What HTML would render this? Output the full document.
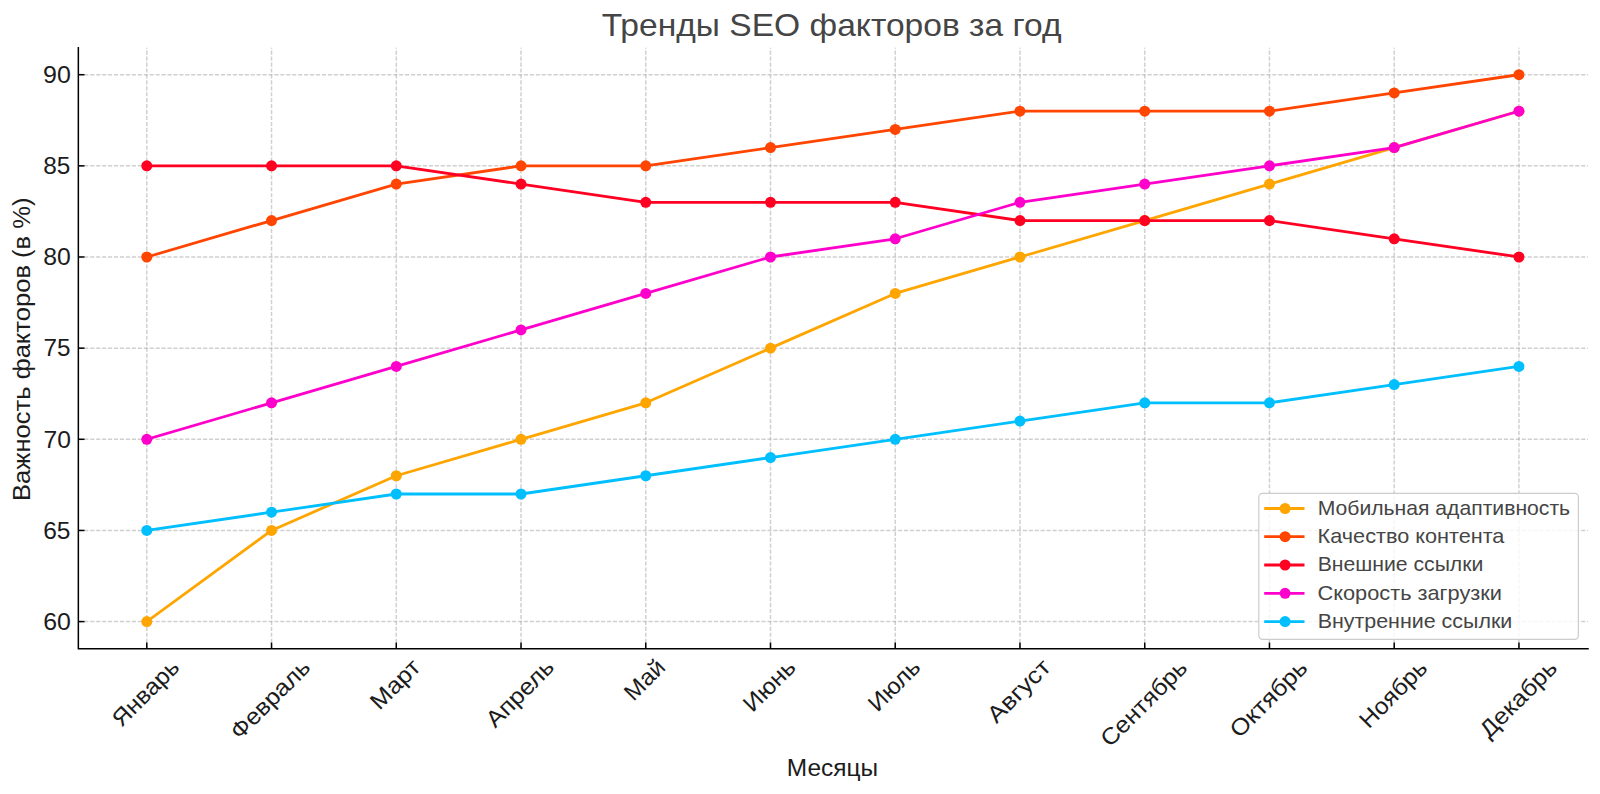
<!DOCTYPE html><html><head><meta charset="utf-8"><title>Тренды SEO факторов за год</title><style>html,body{margin:0;padding:0;background:#fff;width:1600px;height:794px;overflow:hidden}svg{display:block}text{font-family:"Liberation Sans",sans-serif}</style></head><body>
<svg width="1600" height="794" viewBox="0 0 1600 794">
<rect width="1600" height="794" fill="#fff"/>
<g stroke="#b0b0b0" stroke-opacity="0.6" stroke-width="1.5" stroke-dasharray="4.15 1.79" fill="none">
<line x1="146.80" y1="648.75" x2="146.80" y2="47.80"/>
<line x1="271.54" y1="648.75" x2="271.54" y2="47.80"/>
<line x1="396.28" y1="648.75" x2="396.28" y2="47.80"/>
<line x1="521.02" y1="648.75" x2="521.02" y2="47.80"/>
<line x1="645.76" y1="648.75" x2="645.76" y2="47.80"/>
<line x1="770.50" y1="648.75" x2="770.50" y2="47.80"/>
<line x1="895.24" y1="648.75" x2="895.24" y2="47.80"/>
<line x1="1019.98" y1="648.75" x2="1019.98" y2="47.80"/>
<line x1="1144.72" y1="648.75" x2="1144.72" y2="47.80"/>
<line x1="1269.46" y1="648.75" x2="1269.46" y2="47.80"/>
<line x1="1394.20" y1="648.75" x2="1394.20" y2="47.80"/>
<line x1="1518.94" y1="648.75" x2="1518.94" y2="47.80"/>
<line x1="78.35" y1="621.60" x2="1588.00" y2="621.60"/>
<line x1="78.35" y1="530.45" x2="1588.00" y2="530.45"/>
<line x1="78.35" y1="439.30" x2="1588.00" y2="439.30"/>
<line x1="78.35" y1="348.15" x2="1588.00" y2="348.15"/>
<line x1="78.35" y1="257.00" x2="1588.00" y2="257.00"/>
<line x1="78.35" y1="165.85" x2="1588.00" y2="165.85"/>
<line x1="78.35" y1="74.70" x2="1588.00" y2="74.70"/>
</g>
<polyline points="146.80,621.60 271.54,530.45 396.28,475.76 521.02,439.30 645.76,402.84 770.50,348.15 895.24,293.46 1019.98,257.00 1144.72,220.54 1269.46,184.08 1394.20,147.62 1518.94,111.16" fill="none" stroke="#FFA500" stroke-width="2.8" stroke-linejoin="round" stroke-linecap="square"/>
<g fill="#FFA500"><circle cx="146.80" cy="621.60" r="5.5"/><circle cx="271.54" cy="530.45" r="5.5"/><circle cx="396.28" cy="475.76" r="5.5"/><circle cx="521.02" cy="439.30" r="5.5"/><circle cx="645.76" cy="402.84" r="5.5"/><circle cx="770.50" cy="348.15" r="5.5"/><circle cx="895.24" cy="293.46" r="5.5"/><circle cx="1019.98" cy="257.00" r="5.5"/><circle cx="1144.72" cy="220.54" r="5.5"/><circle cx="1269.46" cy="184.08" r="5.5"/><circle cx="1394.20" cy="147.62" r="5.5"/><circle cx="1518.94" cy="111.16" r="5.5"/></g>
<polyline points="146.80,257.00 271.54,220.54 396.28,184.08 521.02,165.85 645.76,165.85 770.50,147.62 895.24,129.39 1019.98,111.16 1144.72,111.16 1269.46,111.16 1394.20,92.93 1518.94,74.70" fill="none" stroke="#FF4500" stroke-width="2.8" stroke-linejoin="round" stroke-linecap="square"/>
<g fill="#FF4500"><circle cx="146.80" cy="257.00" r="5.5"/><circle cx="271.54" cy="220.54" r="5.5"/><circle cx="396.28" cy="184.08" r="5.5"/><circle cx="521.02" cy="165.85" r="5.5"/><circle cx="645.76" cy="165.85" r="5.5"/><circle cx="770.50" cy="147.62" r="5.5"/><circle cx="895.24" cy="129.39" r="5.5"/><circle cx="1019.98" cy="111.16" r="5.5"/><circle cx="1144.72" cy="111.16" r="5.5"/><circle cx="1269.46" cy="111.16" r="5.5"/><circle cx="1394.20" cy="92.93" r="5.5"/><circle cx="1518.94" cy="74.70" r="5.5"/></g>
<polyline points="146.80,165.85 271.54,165.85 396.28,165.85 521.02,184.08 645.76,202.31 770.50,202.31 895.24,202.31 1019.98,220.54 1144.72,220.54 1269.46,220.54 1394.20,238.77 1518.94,257.00" fill="none" stroke="#FF0022" stroke-width="2.8" stroke-linejoin="round" stroke-linecap="square"/>
<g fill="#FF0022"><circle cx="146.80" cy="165.85" r="5.5"/><circle cx="271.54" cy="165.85" r="5.5"/><circle cx="396.28" cy="165.85" r="5.5"/><circle cx="521.02" cy="184.08" r="5.5"/><circle cx="645.76" cy="202.31" r="5.5"/><circle cx="770.50" cy="202.31" r="5.5"/><circle cx="895.24" cy="202.31" r="5.5"/><circle cx="1019.98" cy="220.54" r="5.5"/><circle cx="1144.72" cy="220.54" r="5.5"/><circle cx="1269.46" cy="220.54" r="5.5"/><circle cx="1394.20" cy="238.77" r="5.5"/><circle cx="1518.94" cy="257.00" r="5.5"/></g>
<polyline points="146.80,439.30 271.54,402.84 396.28,366.38 521.02,329.92 645.76,293.46 770.50,257.00 895.24,238.77 1019.98,202.31 1144.72,184.08 1269.46,165.85 1394.20,147.62 1518.94,111.16" fill="none" stroke="#FF00CC" stroke-width="2.8" stroke-linejoin="round" stroke-linecap="square"/>
<g fill="#FF00CC"><circle cx="146.80" cy="439.30" r="5.5"/><circle cx="271.54" cy="402.84" r="5.5"/><circle cx="396.28" cy="366.38" r="5.5"/><circle cx="521.02" cy="329.92" r="5.5"/><circle cx="645.76" cy="293.46" r="5.5"/><circle cx="770.50" cy="257.00" r="5.5"/><circle cx="895.24" cy="238.77" r="5.5"/><circle cx="1019.98" cy="202.31" r="5.5"/><circle cx="1144.72" cy="184.08" r="5.5"/><circle cx="1269.46" cy="165.85" r="5.5"/><circle cx="1394.20" cy="147.62" r="5.5"/><circle cx="1518.94" cy="111.16" r="5.5"/></g>
<polyline points="146.80,530.45 271.54,512.22 396.28,493.99 521.02,493.99 645.76,475.76 770.50,457.53 895.24,439.30 1019.98,421.07 1144.72,402.84 1269.46,402.84 1394.20,384.61 1518.94,366.38" fill="none" stroke="#00BFFF" stroke-width="2.8" stroke-linejoin="round" stroke-linecap="square"/>
<g fill="#00BFFF"><circle cx="146.80" cy="530.45" r="5.5"/><circle cx="271.54" cy="512.22" r="5.5"/><circle cx="396.28" cy="493.99" r="5.5"/><circle cx="521.02" cy="493.99" r="5.5"/><circle cx="645.76" cy="475.76" r="5.5"/><circle cx="770.50" cy="457.53" r="5.5"/><circle cx="895.24" cy="439.30" r="5.5"/><circle cx="1019.98" cy="421.07" r="5.5"/><circle cx="1144.72" cy="402.84" r="5.5"/><circle cx="1269.46" cy="402.84" r="5.5"/><circle cx="1394.20" cy="384.61" r="5.5"/><circle cx="1518.94" cy="366.38" r="5.5"/></g>
<g stroke="#000" stroke-width="1.5" fill="none">
<path d="M78.35 47.80V648.75H1588.00" stroke-linecap="square"/>
<line x1="146.80" y1="648.75" x2="146.80" y2="642.55"/>
<line x1="271.54" y1="648.75" x2="271.54" y2="642.55"/>
<line x1="396.28" y1="648.75" x2="396.28" y2="642.55"/>
<line x1="521.02" y1="648.75" x2="521.02" y2="642.55"/>
<line x1="645.76" y1="648.75" x2="645.76" y2="642.55"/>
<line x1="770.50" y1="648.75" x2="770.50" y2="642.55"/>
<line x1="895.24" y1="648.75" x2="895.24" y2="642.55"/>
<line x1="1019.98" y1="648.75" x2="1019.98" y2="642.55"/>
<line x1="1144.72" y1="648.75" x2="1144.72" y2="642.55"/>
<line x1="1269.46" y1="648.75" x2="1269.46" y2="642.55"/>
<line x1="1394.20" y1="648.75" x2="1394.20" y2="642.55"/>
<line x1="1518.94" y1="648.75" x2="1518.94" y2="642.55"/>
<line x1="78.35" y1="621.60" x2="84.55" y2="621.60"/>
<line x1="78.35" y1="530.45" x2="84.55" y2="530.45"/>
<line x1="78.35" y1="439.30" x2="84.55" y2="439.30"/>
<line x1="78.35" y1="348.15" x2="84.55" y2="348.15"/>
<line x1="78.35" y1="257.00" x2="84.55" y2="257.00"/>
<line x1="78.35" y1="165.85" x2="84.55" y2="165.85"/>
<line x1="78.35" y1="74.70" x2="84.55" y2="74.70"/>
</g>
<text x="0.35" y="0" font-size="23.30" textLength="83.85" lengthAdjust="spacingAndGlyphs" fill="#1c1c1c" transform="translate(121.33 728.34) rotate(-45)">Январь</text>
<text x="-0.09" y="0" font-size="23.30" textLength="101.55" lengthAdjust="spacingAndGlyphs" fill="#1c1c1c" transform="translate(239.92 740.62) rotate(-45)">Февраль</text>
<text x="0.12" y="0" font-size="23.30" textLength="59.97" lengthAdjust="spacingAndGlyphs" fill="#1c1c1c" transform="translate(379.42 711.10) rotate(-45)">Март</text>
<text x="0.11" y="0" font-size="23.30" textLength="85.12" lengthAdjust="spacingAndGlyphs" fill="#1c1c1c" transform="translate(495.27 728.87) rotate(-45)">Апрель</text>
<text x="0.20" y="0" font-size="23.30" textLength="47.04" lengthAdjust="spacingAndGlyphs" fill="#1c1c1c" transform="translate(633.40 702.09) rotate(-45)">Май</text>
<text x="0.14" y="0" font-size="23.30" textLength="63.01" lengthAdjust="spacingAndGlyphs" fill="#1c1c1c" transform="translate(752.47 713.40) rotate(-45)">Июнь</text>
<text x="0.16" y="0" font-size="23.30" textLength="62.68" lengthAdjust="spacingAndGlyphs" fill="#1c1c1c" transform="translate(877.30 713.22) rotate(-45)">Июль</text>
<text x="0.10" y="0" font-size="23.30" textLength="78.58" lengthAdjust="spacingAndGlyphs" fill="#1c1c1c" transform="translate(996.51 724.27) rotate(-45)">Август</text>
<text x="-0.01" y="0" font-size="23.30" textLength="111.50" lengthAdjust="spacingAndGlyphs" fill="#1c1c1c" transform="translate(1109.91 748.10) rotate(-45)">Сентябрь</text>
<text x="0.02" y="0" font-size="23.30" textLength="98.63" lengthAdjust="spacingAndGlyphs" fill="#1c1c1c" transform="translate(1239.20 739.00) rotate(-45)">Октябрь</text>
<text x="0.17" y="0" font-size="23.30" textLength="84.75" lengthAdjust="spacingAndGlyphs" fill="#1c1c1c" transform="translate(1368.67 729.54) rotate(-45)">Ноябрь</text>
<text x="0.93" y="0" font-size="23.30" textLength="98.57" lengthAdjust="spacingAndGlyphs" fill="#1c1c1c" transform="translate(1488.28 739.79) rotate(-45)">Декабрь</text>
<text x="-28.18" y="0" font-size="23.74" textLength="27.72" lengthAdjust="spacingAndGlyphs" fill="#1c1c1c" transform="translate(71.30 629.90)">60</text>
<text x="-28.16" y="0" font-size="23.74" textLength="27.30" lengthAdjust="spacingAndGlyphs" fill="#1c1c1c" transform="translate(71.30 538.75)">65</text>
<text x="-27.89" y="0" font-size="23.74" textLength="27.41" lengthAdjust="spacingAndGlyphs" fill="#1c1c1c" transform="translate(71.30 447.60)">70</text>
<text x="-27.87" y="0" font-size="23.74" textLength="26.99" lengthAdjust="spacingAndGlyphs" fill="#1c1c1c" transform="translate(71.30 356.45)">75</text>
<text x="-28.05" y="0" font-size="23.74" textLength="27.58" lengthAdjust="spacingAndGlyphs" fill="#1c1c1c" transform="translate(71.30 265.30)">80</text>
<text x="-28.03" y="0" font-size="23.74" textLength="27.16" lengthAdjust="spacingAndGlyphs" fill="#1c1c1c" transform="translate(71.30 174.15)">85</text>
<text x="-28.29" y="0" font-size="23.74" textLength="27.83" lengthAdjust="spacingAndGlyphs" fill="#1c1c1c" transform="translate(71.30 83.00)">90</text>
<text x="0.08" y="0" font-size="23.30" textLength="303.39" lengthAdjust="spacingAndGlyphs" fill="#1c1c1c" transform="translate(29.80 501.00) rotate(-90)">Важность факторов (в %)</text>
<text x="-45.75" y="0" font-size="23.30" textLength="91.33" lengthAdjust="spacingAndGlyphs" fill="#1c1c1c" transform="translate(832.60 775.90)">Месяцы</text>
<text x="-230.77" y="0" font-size="31.06" textLength="459.75" lengthAdjust="spacingAndGlyphs" fill="#454545" transform="translate(832.50 35.80)">Тренды SEO факторов за год</text>
<rect x="1258.80" y="493.40" width="319.60" height="145.90" rx="3.7" ry="3.7" fill="#fff" fill-opacity="0.8" stroke="#cccccc" stroke-width="1.2"/>
<line x1="1264.2" y1="508.50" x2="1304.5" y2="508.50" stroke="#FFA500" stroke-width="2.8"/>
<circle cx="1285.1" cy="508.50" r="5.5" fill="#FFA500"/>
<text x="0.08" y="0" font-size="19.42" textLength="252.43" lengthAdjust="spacingAndGlyphs" fill="#454545" transform="translate(1317.60 514.70)">Мобильная адаптивность</text>
<line x1="1264.2" y1="536.70" x2="1304.5" y2="536.70" stroke="#FF4500" stroke-width="2.8"/>
<circle cx="1285.1" cy="536.70" r="5.5" fill="#FF4500"/>
<text x="0.03" y="0" font-size="19.42" textLength="186.78" lengthAdjust="spacingAndGlyphs" fill="#454545" transform="translate(1317.60 542.90)">Качество контента</text>
<line x1="1264.2" y1="565.00" x2="1304.5" y2="565.00" stroke="#FF0022" stroke-width="2.8"/>
<circle cx="1285.1" cy="565.00" r="5.5" fill="#FF0022"/>
<text x="0.07" y="0" font-size="19.42" textLength="165.67" lengthAdjust="spacingAndGlyphs" fill="#454545" transform="translate(1317.60 571.20)">Внешние ссылки</text>
<line x1="1264.2" y1="593.30" x2="1304.5" y2="593.30" stroke="#FF00CC" stroke-width="2.8"/>
<circle cx="1285.1" cy="593.30" r="5.5" fill="#FF00CC"/>
<text x="-0.06" y="0" font-size="19.42" textLength="184.36" lengthAdjust="spacingAndGlyphs" fill="#454545" transform="translate(1317.60 599.50)">Скорость загрузки</text>
<line x1="1264.2" y1="621.60" x2="1304.5" y2="621.60" stroke="#00BFFF" stroke-width="2.8"/>
<circle cx="1285.1" cy="621.60" r="5.5" fill="#00BFFF"/>
<text x="0.05" y="0" font-size="19.42" textLength="194.58" lengthAdjust="spacingAndGlyphs" fill="#454545" transform="translate(1317.60 627.80)">Внутренние ссылки</text>
</svg></body></html>
